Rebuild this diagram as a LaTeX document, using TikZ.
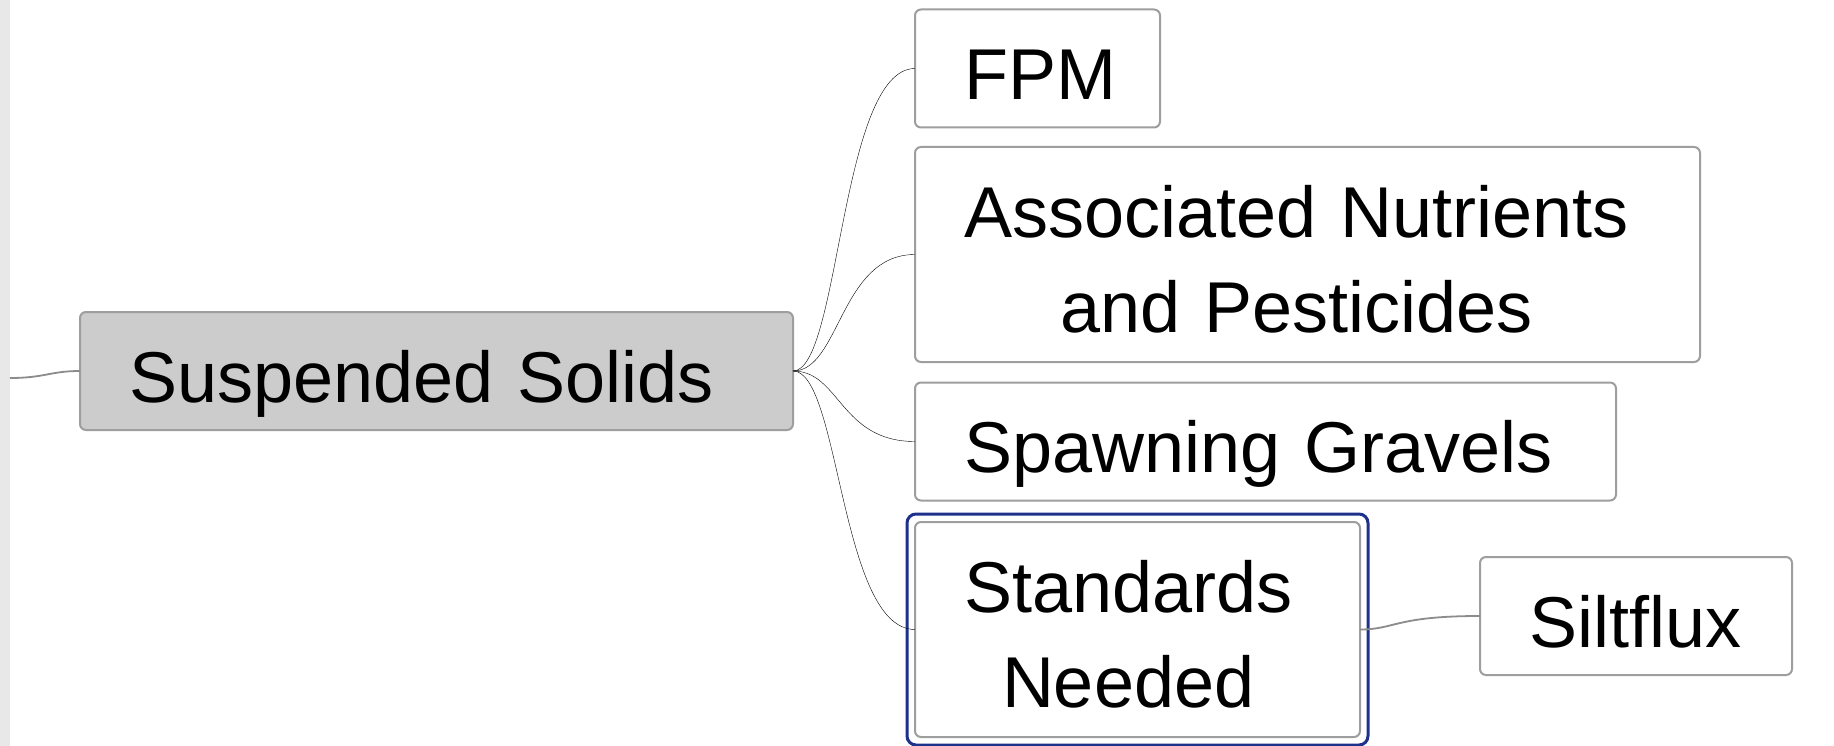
\documentclass[tikz,border=0pt]{standalone}
\usepackage{fontspec}
\setmainfont{Liberation Sans}
\usepackage{tikz}
\usetikzlibrary{positioning}

\definecolor{linegray}{RGB}{140,140,140}
\definecolor{boxgray}{RGB}{158,158,158}
\definecolor{centralfill}{RGB}{204,204,204}
\definecolor{selectblue}{RGB}{30,50,140}
\definecolor{stripgray}{RGB}{232,232,232}

\begin{document}
\begin{tikzpicture}[
    x=1pt, y=-1pt,
    every node/.style={rectangle, rounded corners=6pt, draw=boxgray, line width=2pt,
        fill=white, font=\fontsize{72}{95}\selectfont, align=left, outer sep=0pt,
        inner xsep=49pt, inner ysep=0pt, text height=90pt, text depth=28pt},
    twoline/.style={text depth=125pt},
    central/.style={fill=centralfill},
    link/.style={draw=linegray, line width=1.8pt},
    branch/.style={link, to path={.. controls +(47,0) and +(-75,0) .. (\tikztotarget)}}
]
\fill[white] (0,0) rectangle (1834,746);
\fill[stripgray] (0,0) rectangle (10,746);
\useasboundingbox (0,0) rectangle (1834,746);

\node[central, text width=615pt] (solids) at (436.5,371) {Suspended Solids};
\node[text width=147pt] (fpm) at (1037.5,68.5) {FPM};
\node[twoline, text width=687pt] (nutrients) at (1307.5,254.5)
    {\begin{tabular}[t]{@{}c@{}}Associated Nutrients\\and Pesticides\end{tabular}};
\node[text width=603pt] (gravels) at (1265.5,441.5) {Spawning Gravels};
\node[twoline, text width=347pt] (standards) at (1137.5,629.5)
    {\begin{tabular}[t]{@{}c@{}}Standards\\Needed\end{tabular}};
\node[text width=214pt] (siltflux) at (1636,616) {Siltflux};
\coordinate (stem) at (10,378);

% selection frame
\draw[selectblue, line width=3pt, rounded corners=9pt]
    ([shift={(-8,-8)}]standards.north west) rectangle ([shift={(8,8)}]standards.south east);

\draw[link] (stem) .. controls +(35,0) and +(-30,0) .. (solids.west);
\draw (solids.east) to[branch] (fpm.west);
\draw (solids.east) to[branch] (nutrients.west);
\draw (solids.east) to[branch] (gravels.west);
\draw (solids.east) to[branch] (standards.west);
\draw[link] (standards.east) .. controls +(35,0) and +(-85,0) .. (siltflux.west);
\end{tikzpicture}
\end{document}
